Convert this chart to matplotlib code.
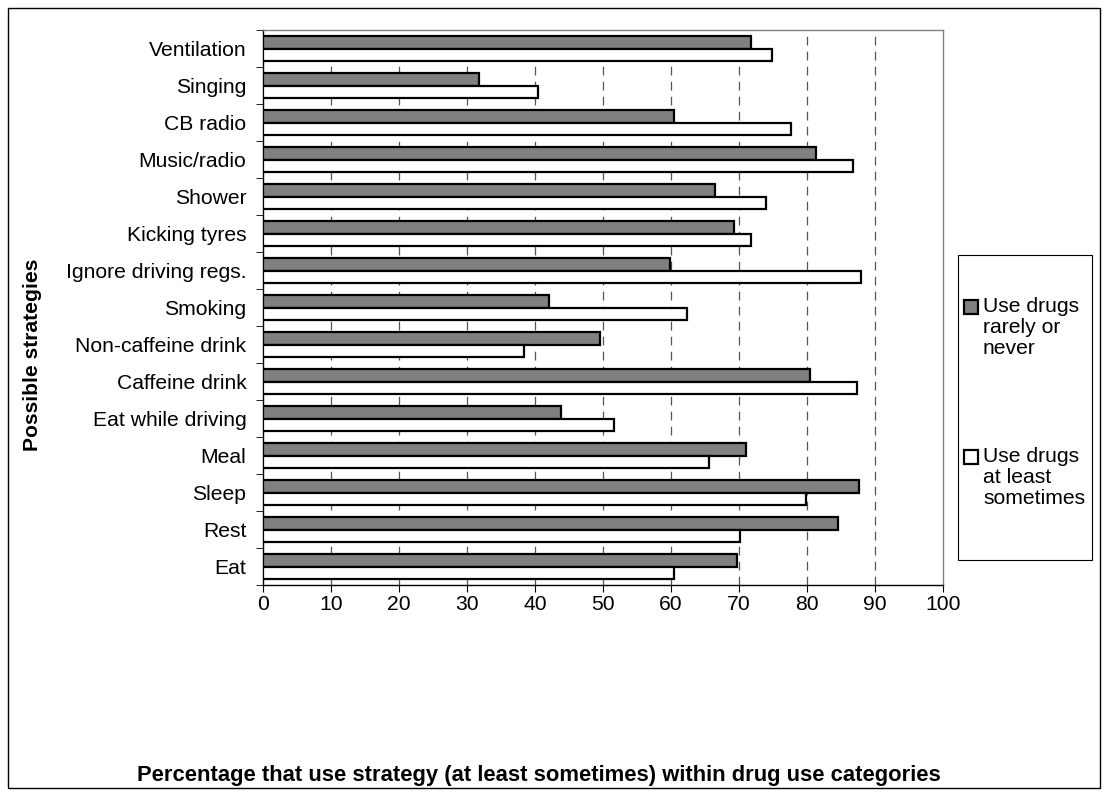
import matplotlib
matplotlib.use("Agg")
import matplotlib.pyplot as plt
import numpy as np
from matplotlib.patches import Rectangle

plt.rcParams['font.family'] = ['Liberation Sans', 'DejaVu Sans']

categories = ["Eat", "Rest", "Sleep", "Meal", "Eat while driving", "Caffeine drink",
              "Non-caffeine drink", "Smoking", "Ignore driving regs.", "Kicking tyres",
              "Shower", "Music/radio", "CB radio", "Singing", "Ventilation"]
rarely = [69.7, 84.5, 87.6, 71.1, 43.8, 80.4, 49.5, 42.1, 59.9, 69.3, 66.4, 81.3, 60.4, 31.7, 71.7]
sometimes = [60.4, 70.2, 79.8, 65.6, 51.6, 87.4, 38.4, 62.4, 88.0, 71.8, 74.0, 86.8, 77.7, 40.4, 74.9]
series_names = ["Use drugs\nrarely or\nnever", "Use drugs\nat least\nsometimes"]
series_colors = ['#808080', 'white']
xticks = [0, 10, 20, 30, 40, 50, 60, 70, 80, 90, 100]

W, H = 1108, 796
fs = 15.2

fig = plt.figure(figsize=(W/100, H/100), dpi=100)
# outer frame
fig.patches.append(Rectangle((8/W, 1 - 788/H), 1092/W, 780/H, transform=fig.transFigure,
                             fill=False, edgecolor='black', linewidth=1.0))

ax = fig.add_axes([263/W, 1 - 585/H, 680/W, 555/H])
y = np.arange(len(categories))
h = 0.34
ax.barh(y + h/2, rarely, height=h, color=series_colors[0], edgecolor='black', linewidth=1.6,
        zorder=3)
ax.barh(y - h/2, sometimes, height=h, color=series_colors[1], edgecolor='black', linewidth=1.6,
        zorder=3)

ax.set_xlim(0, 100)
ax.set_ylim(-0.5, len(categories) - 0.5)
ax.set_xticks(xticks)
ax.set_xticklabels([str(t) for t in xticks], fontsize=fs)
ax.set_yticks(y)
ax.set_yticklabels(categories, fontsize=fs)
ax.tick_params(axis='y', which='major', length=0, pad=12)
ax.set_yticks(np.arange(-0.5, len(categories), 1), minor=True)
ax.tick_params(axis='y', which='minor', length=5, direction='out', color='black')
ax.tick_params(axis='x', length=5, direction='out', pad=2)

for xv in xticks[1:-1]:
    ax.axvline(xv, color='#555555', linestyle=(0, (7, 5)), linewidth=0.9, zorder=1)

for s in ['left', 'bottom']:
    ax.spines[s].set_color('black')
    ax.spines[s].set_linewidth(1.0)
for s in ['top', 'right']:
    ax.spines[s].set_color('#808080')
    ax.spines[s].set_linewidth(1.0)

fig.text(539/W, 1 - 776/H, "Percentage that use strategy (at least sometimes) within drug use categories",
         ha='center', va='center', fontsize=15.8, fontweight='bold')
fig.text(33/W, 1 - 355/H, "Possible strategies", rotation=90, ha='center', va='center',
         fontsize=fs, fontweight='bold')

# legend box
fig.patches.append(Rectangle((958/W, 1 - 560/H), 134/W, 305/H, transform=fig.transFigure,
                             facecolor='white', edgecolor='black', linewidth=0.8))
for name, col, top in zip(series_names, series_colors, [299, 449]):
    fig.patches.append(Rectangle((964/W, 1 - (top + 15)/H), 14/W, 14/H,
                                 transform=fig.transFigure, facecolor=col,
                                 edgecolor='black', linewidth=1.6))
    fig.text(983/W, 1 - (top - 2)/H, name, ha='left', va='top', fontsize=fs,
             linespacing=1.15)

fig.savefig("out.png", dpi=100)
